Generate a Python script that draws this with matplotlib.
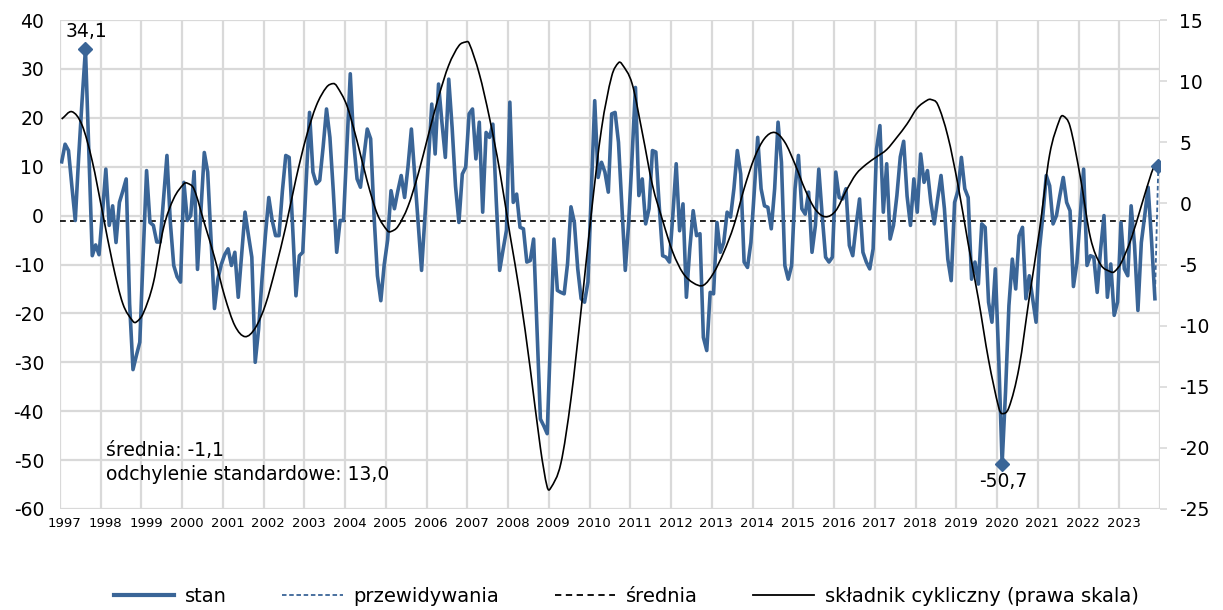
import matplotlib
matplotlib.use("Agg")
import matplotlib.pyplot as plt
from matplotlib.lines import Line2D
from matplotlib.patches import PathPatch
from matplotlib.path import Path
import numpy as np

BLUE = "#3A6597"
GRID = "#D9D9D9"

YEARS = list(range(1997, 2024))

# monthly "stan" readings, one row per year
STAN = [
    11.0, 14.6, 13.3, 6.0, -1.0, 12.0, 23.5, 34.1, 13.0, -8.2, -6.0, -8.0,
    0.5, 9.5, -2.0, 2.0, -5.5, 2.7, 5.0, 7.5, -18.0, -31.5, -28.6, -25.9,
    -8.0, 9.2, -1.4, -2.0, -5.4, -5.4, 3.5, 12.3, -1.4, -10.2, -12.5, -13.6,
    6.8, -1.0, 0.0, 9.0, -11.0, 1.0, 12.9, 8.9, -5.0, -19.0, -13.0, -10.0,
    -8.0, -6.8, -10.2, -7.5, -16.7, -8.0, 0.7, -4.0, -8.5, -30.0, -23.2, -13.0,
    -4.0, 3.7, -1.0, -4.1, -4.1, 5.0, 12.3, 11.9, -2.0, -16.4, -8.2, -7.5,
    7.0, 21.1, 8.9, 6.5, 7.2, 14.0, 21.8, 16.0, 5.0, -7.5, -1.0, -1.0,
    14.0, 29.0, 15.0, 7.5, 5.8, 12.0, 17.7, 15.7, 0.0, -12.3, -17.4, -10.0,
    -5.0, 5.1, 1.4, 5.0, 8.2, 3.7, 10.0, 17.7, 8.0, -2.0, -11.2, 0.0,
    11.0, 22.8, 12.6, 26.9, 19.0, 11.9, 27.9, 18.0, 6.0, -1.4, 8.5, 9.9,
    20.8, 21.8, 11.6, 19.1, 0.7, 17.0, 16.0, 18.7, 3.0, -11.2, -7.0, -3.0,
    23.2, 2.7, 4.4, -2.4, -2.7, -9.5, -9.2, -4.8, -23.0, -41.6, -43.0, -44.6,
    -25.0, -4.8, -15.3, -15.7, -16.0, -9.8, 1.8, -1.4, -10.9, -17.0, -17.7, -13.6,
    5.0, 23.5, 7.8, 10.9, 8.9, 4.8, 20.8, 21.1, 15.0, 2.0, -11.2, -1.4,
    12.0, 26.2, 4.1, 7.5, -1.7, 1.4, 13.3, 13.0, 2.0, -8.2, -8.5, -9.5,
    0.0, 10.6, -3.1, 2.4, -16.7, -6.8, 1.0, -4.1, -3.7, -24.9, -27.6, -15.7,
    -16.0, -1.4, -7.5, -5.5, 0.7, -0.3, 5.5, 13.3, 8.5, -9.5, -10.6, -5.5,
    5.0, 16.0, 5.5, 2.0, 1.7, -2.7, 5.5, 19.1, 10.9, -10.2, -13.0, -10.2,
    5.5, 12.3, 1.4, 0.3, 4.8, -7.5, -2.0, 9.5, 0.0, -8.5, -9.5, -8.5,
    8.9, 3.7, 3.4, 5.5, -6.1, -8.2, -2.0, 3.4, -7.5, -9.5, -10.9, -6.8,
    13.6, 18.4, 0.7, 10.6, -4.8, -2.0, 4.1, 12.0, 15.2, 4.0, -2.0, 7.5,
    0.7, 12.6, 6.8, 9.2, 2.7, -1.7, 3.4, 8.2, 1.4, -8.9, -13.3, 2.7,
    5.1, 11.9, 5.5, 3.7, -13.0, -9.5, -14.0, -1.7, -2.4, -17.7, -21.8, -10.9,
    -29.3, -50.7, -36.1, -18.4, -8.9, -15.0, -4.1, -2.4, -17.0, -12.3, -17.0, -21.8,
    -6.8, 0.0, 8.2, 6.1, -1.7, 0.0, 4.1, 7.8, 2.7, 1.0, -14.5, -9.8,
    0.0, 9.5, -10.2, -8.2, -8.5, -15.7, -7.0, 0.0, -16.7, -9.9, -20.4, -17.7,
    -1.4, -10.9, -12.3, 2.0, -6.1, -19.4, -5.5, 0.0, 5.8, -5.0, -17.0,
]
FORECAST = 10.2
MEAN = -1.1
STD = 13.0

# cyclical component (right axis), read at roughly quarterly steps plus turning points
CYCLE_MONTH = [
    0, 3, 6, 9, 12, 15, 18, 21, 22, 24, 27, 30, 33, 36, 37, 39, 42, 45, 48, 51, 54,
    57, 60, 63, 66, 69, 72, 75, 78, 80, 81, 84, 87, 90, 93, 96, 97, 99, 102, 105,
    108, 111, 114, 117, 119, 120, 123, 126, 129, 132, 135, 138, 141, 143, 144, 147,
    150, 153, 156, 159, 162, 164, 165, 168, 171, 174, 177, 180, 183, 186, 189, 192,
    195, 198, 201, 204, 207, 210, 213, 216, 219, 222, 225, 228, 231, 234, 237, 240,
    243, 246, 249, 252, 255, 256, 258, 261, 264, 267, 270, 273, 276, 277, 279, 282,
    285, 288, 291, 294, 295, 297, 300, 303, 306, 309, 310, 312, 315, 318, 321, 322,
]
CYCLE_VALUE = [
    6.9, 7.5, 6.4, 3.45, -0.7, -4.9, -8.2, -9.65, -9.7, -9.0, -6.5, -2.0, 0.4, 1.6, 1.65, 1.15, -1.6, -4.4, -7.6, -10.0, -10.9,
    -10.2, -8.3, -5.3, -1.9, 2.0, 5.4, 8.0, 9.5, 9.8, 9.6, 8.0, 5.1, 1.8, -0.9, -2.25, -2.3, -1.9, -0.25, 2.4,
    5.6, 8.7, 11.3, 12.9, 13.2, 13.1, 10.6, 7.0, 2.7, -2.5, -7.5, -13.5, -20.0, -23.2, -23.3, -21.3,
    -16.0, -8.7, -0.8, 6.1, 10.4, 11.5, 11.4, 9.8, 5.8, 1.5, -1.4, -4.0, -5.7, -6.5, -6.7, -5.7,
    -4.0, -1.8, 1.2, 3.7, 5.3, 5.8, 5.0, 3.2, 1.1, -0.5, -1.1, -0.6, 1.0, 2.4, 3.2, 3.8,
    4.4, 5.4, 6.5, 7.8, 8.45, 8.5, 8.1, 5.5, 1.5, -3.3, -7.8, -12.8, -16.7, -17.2, -16.7, -13.4,
    -7.7, -2.2, 4.0, 6.9, 7.15, 6.3, 2.2, -2.8, -5.0, -5.6, -5.6, -4.9, -2.9, -0.2, 2.5, 3.15,
]

LEFT_TICKS = list(range(-60, 41, 10))
RIGHT_TICKS = list(range(-25, 16, 5))


def smooth_path(xs, ys) -> Path:
    """Excel-like smoothed line: cubic Bezier segments through the given points."""
    x = np.asarray(xs, dtype=float)
    y = np.asarray(ys, dtype=float)
    slope = np.empty_like(y)
    slope[1:-1] = (y[2:] - y[:-2]) / (x[2:] - x[:-2])
    slope[0] = (y[1] - y[0]) / (x[1] - x[0])
    slope[-1] = (y[-1] - y[-2]) / (x[-1] - x[-2])
    verts = [(x[0], y[0])]
    codes = [Path.MOVETO]
    for k in range(len(x) - 1):
        h = (x[k + 1] - x[k]) / 3
        verts += [
            (x[k] + h, y[k] + slope[k] * h),
            (x[k + 1] - h, y[k + 1] - slope[k + 1] * h),
            (x[k + 1], y[k + 1]),
        ]
        codes += [Path.CURVE4] * 3
    return Path(verts, codes)


def main() -> None:
    plt.rcParams["font.family"] = ["DejaVu Sans"]
    fig = plt.figure(figsize=(12.23, 6.10), dpi=100)
    ax = fig.add_axes([60 / 1223, 1 - 509 / 610, 1100 / 1223, 489 / 610])
    ax2 = ax.twinx()

    months = np.arange(len(STAN))
    n_months = len(YEARS) * 12

    ax.set_xlim(-0.5, n_months - 0.5)
    ax.set_ylim(-60, 40)
    ax2.set_ylim(-25, 15)

    # grid and ticks
    ax.set_yticks(LEFT_TICKS)
    ax.set_yticklabels([str(v) for v in LEFT_TICKS], fontsize=13.5)
    ax.set_xticks([12 * k - 0.5 for k in range(len(YEARS) + 1)])
    ax.set_xticklabels([])
    ax.set_xticks([12 * k + 0.8 for k in range(len(YEARS))], minor=True)
    ax.set_xticklabels([str(y) for y in YEARS], minor=True, fontsize=9.5)
    ax.grid(True, which="major", color=GRID, linewidth=1.6, zorder=0)
    ax.tick_params(axis="both", which="both", length=0)
    ax.tick_params(axis="y", pad=11.5)
    ax.tick_params(axis="x", which="minor", pad=6)
    for spine in list(ax.spines.values()) + list(ax2.spines.values()):
        spine.set_visible(False)

    ax2.set_yticks(RIGHT_TICKS)
    ax2.set_yticklabels([str(v) for v in RIGHT_TICKS], fontsize=13.5)
    ax2.tick_params(axis="y", length=5, width=1.2, color=GRID, pad=9)

    # series
    ax.plot([-0.5, len(STAN) - 1], [MEAN, MEAN], color="black", lw=1.2,
            ls=(0, (3.5, 2.5)), zorder=3)
    ax.plot([len(STAN) - 1, len(STAN)], [STAN[-1], FORECAST], color=BLUE,
            lw=1.3, ls=(0, (2.5, 1.5)), zorder=4)
    ax.plot(months, STAN, color=BLUE, lw=2.6, solid_joinstyle="round", zorder=4)
    ax2.add_patch(PathPatch(smooth_path(CYCLE_MONTH, CYCLE_VALUE), fill=False,
                            edgecolor="black", lw=1.2, zorder=5))

    i_max = int(np.argmax(STAN))
    i_min = int(np.argmin(STAN))
    ax2.plot([i_max, i_min, len(STAN)],
             [(v + 60) / 100 * 40 - 25 for v in (STAN[i_max], STAN[i_min], FORECAST)],
             ls="none", marker="D", ms=7.5, color=BLUE, zorder=6)
    ax.annotate(f"{STAN[i_max]:.1f}".replace(".", ","), (i_max, STAN[i_max]),
                xytext=(1, 6), textcoords="offset points", ha="center",
                va="bottom", fontsize=13.5)
    ax.annotate(f"{STAN[i_min]:.1f}".replace(".", ","), (i_min, STAN[i_min]),
                xytext=(1, -6), textcoords="offset points", ha="center",
                va="top", fontsize=13.5)

    ax.text(13, -50.0, f"średnia: {MEAN:.1f}".replace(".", ","), fontsize=13.5,
            va="bottom", ha="left")
    ax.text(13, -51.0, f"odchylenie standardowe: {STD:.1f}".replace(".", ","),
            fontsize=13.5, va="top", ha="left")

    handles = [
        Line2D([], [], color=BLUE, lw=3),
        Line2D([], [], color=BLUE, lw=1.3, ls=(0, (2.5, 1.5))),
        Line2D([], [], color="black", lw=1.3, ls=(0, (3.5, 2.5))),
        Line2D([], [], color="black", lw=1.3),
    ]
    labels = ["stan", "przewidywania", "średnia", "składnik cykliczny (prawa skala)"]
    fig.legend(handles, labels, loc="center", bbox_to_anchor=(0.512, 0.022),
               ncol=4, frameon=False, fontsize=14, handlelength=3.1,
               handletextpad=0.57, columnspacing=2.85)

    fig.savefig("out.png", dpi=100)
    plt.close(fig)


if __name__ == "__main__":
    main()
